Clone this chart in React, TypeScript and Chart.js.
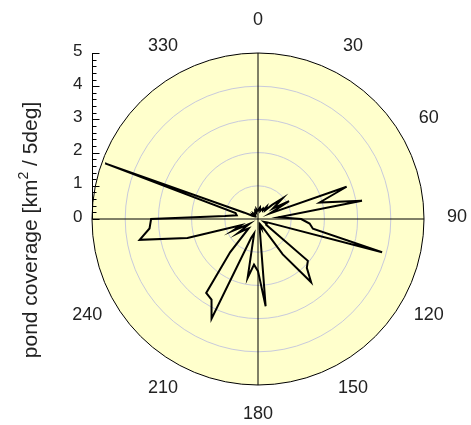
import React, { useEffect, useRef } from 'react';
import { Chart, registerables } from 'chart.js';

Chart.register(...registerables);

// Direction bins (degrees, clockwise from north) — 5° bins
const directions = [
  0, 5, 10, 15, 20, 25, 30, 35, 40, 45, 50, 55,
  60, 65, 70, 75, 80, 85, 90, 95, 100, 105, 110, 115,
  120, 125, 130, 135, 140, 145, 150, 155, 160, 165, 170, 175,
  180, 185, 190, 195, 200, 205, 210, 215, 220, 225, 230, 235,
  240, 245, 250, 255, 260, 265, 270, 275, 280, 285, 290, 295,
  300, 305, 310, 315, 320, 325, 330, 335, 340, 345, 350, 355,
];

// Pond coverage per 5° bin [km²/5deg]
const coverage = [
  0.25, 0.3, 0.35, 0.25, 0.3, 0.35, 0.3, 0.45, 0.35, 0.6, 0.96, 0.55,
  1.08, 0.4, 2.84, 1.92, 3.18, 0.62, 1.3, 1.56, 1.68, 3.87, 0.3, 0.2,
  0.3, 0.3, 1.96, 2.08, 2.49, 1.3, 0.3, 0.2, 0.3, 0.2, 0.3, 2.64,
  1.57, 1.38, 1.8, 0.45, 0.6, 3.31, 2.8, 2.72, 1.3, 0.4, 0.5, 0.75,
  0.3, 0.85, 0.55, 2.2, 3.62, 3.28, 3.22, 1.0, 0.65, 0.7, 4.9, 0.45,
  0.2, 0.15, 0.2, 0.15, 0.2, 0.15, 0.2, 0.2, 0.25, 0.2, 0.3, 0.25,
];

const radialTicks = [0, 1, 2, 3, 4, 5];
const angleLabels = [0, 30, 60, 90, 120, 150, 180, 210, 240, 330];
const titleMain = 'pond coverage [km';
const titleSup = '2';
const titleEnd = ' / 5deg]';

const FONT = '"Liberation Sans", Arial, Helvetica, sans-serif';

const overlayPlugin = {
  id: 'polarOverlay',
  afterDraw(chart: any) {
    const ctx = chart.ctx as CanvasRenderingContext2D;
    const r = chart.scales.r;
    const xC = r.xCenter;
    const yC = r.yCenter;
    const R = r.drawingArea;
    ctx.save();

    // left radial axis
    const ax = Math.round(xC - R) + 0.5;
    const maxV = radialTicks[radialTicks.length - 1];
    const yTop = yC - r.getDistanceFromCenterForValue(maxV);
    ctx.strokeStyle = '#000';
    ctx.lineWidth = 1;
    ctx.beginPath();
    ctx.moveTo(ax, yTop);
    ctx.lineTo(ax, yC);
    const minorPerMajor = 5;
    for (let i = 0; i <= maxV * minorPerMajor; i++) {
      const v = i / minorPerMajor;
      const y = Math.round(yC - r.getDistanceFromCenterForValue(v)) + 0.5;
      const len = i % minorPerMajor === 0 ? 7 : 4;
      ctx.moveTo(ax, y);
      ctx.lineTo(ax + len, y);
    }
    ctx.stroke();

    ctx.fillStyle = '#222';
    ctx.font = `17px ${FONT}`;
    ctx.textAlign = 'right';
    ctx.textBaseline = 'middle';
    radialTicks.forEach((v) => {
      const y = yC - r.getDistanceFromCenterForValue(v) - 2;
      ctx.fillText(String(v), ax - 10, y);
    });

    // angle labels
    ctx.font = `18px ${FONT}`;
    ctx.textAlign = 'center';
    ctx.textBaseline = 'middle';
    angleLabels.forEach((deg) => {
      const a = (deg * Math.PI) / 180;
      const s = Math.sin(a);
      const c = Math.cos(a);
      const x = xC + (R + 33) * s - 14 * s * Math.pow(Math.abs(c), 3);
      const y = yC - (R + 31) * c - 2;
      ctx.fillText(String(deg), x, y);
    });

    // axis title (rotated, with superscript)
    const fMain = `21px ${FONT}`;
    const fSup = `14px ${FONT}`;
    ctx.font = fMain;
    const w1 = ctx.measureText(titleMain).width;
    const w3 = ctx.measureText(titleEnd).width;
    ctx.font = fSup;
    const w2 = ctx.measureText(titleSup).width;
    const total = w1 + w2 + w3;
    ctx.translate(37, yC + 11);
    ctx.rotate(-Math.PI / 2);
    ctx.textAlign = 'left';
    ctx.textBaseline = 'alphabetic';
    let cx = -total / 2;
    ctx.font = fMain;
    ctx.fillText(titleMain, cx, 0);
    cx += w1;
    ctx.font = fSup;
    ctx.fillText(titleSup, cx, -9);
    cx += w2;
    ctx.font = fMain;
    ctx.fillText(titleEnd, cx, 0);

    ctx.restore();
  },
};

export default function App() {
  const canvasRef = useRef<HTMLCanvasElement | null>(null);

  useEffect(() => {
    if (!canvasRef.current) return;
    const chart = new Chart(canvasRef.current, {
      type: 'radar',
      data: {
        labels: directions.map(String),
        datasets: [
          {
            data: coverage,
            borderColor: '#000',
            borderWidth: 2,
            backgroundColor: 'rgba(0,0,0,0)',
            fill: false,
            pointRadius: 0,
            pointHoverRadius: 0,
          },
        ],
      },
      options: {
        responsive: false,
        animation: false,
        events: [],
        layout: { padding: { left: 92, right: 47, top: 53, bottom: 40 } },
        plugins: {
          legend: { display: false },
          tooltip: { enabled: false },
        },
        scales: {
          r: {
            min: 0,
            max: 5,
            startAngle: 0,
            backgroundColor: '#ffffcc',
            ticks: { display: false, stepSize: 1 },
            pointLabels: { display: false },
            grid: {
              circular: true,
              color: (c: any) => (c.index === 5 ? '#000' : '#c8cadc'),
              lineWidth: 1,
            },
            angleLines: {
              display: true,
              color: (c: any) => (c.index % 18 === 0 ? '#000' : 'rgba(0,0,0,0)'),
              lineWidth: (c: any) => (c.index % 18 === 0 ? 1 : 0),
            },
          },
        },
      },
      plugins: [overlayPlugin],
    });
    return () => chart.destroy();
  }, []);

  return (
    <div style={{ position: 'absolute', left: 0, top: 0, width: 471, height: 425, background: '#fff' }}>
      <canvas ref={canvasRef} width={471} height={425} />
    </div>
  );
}
